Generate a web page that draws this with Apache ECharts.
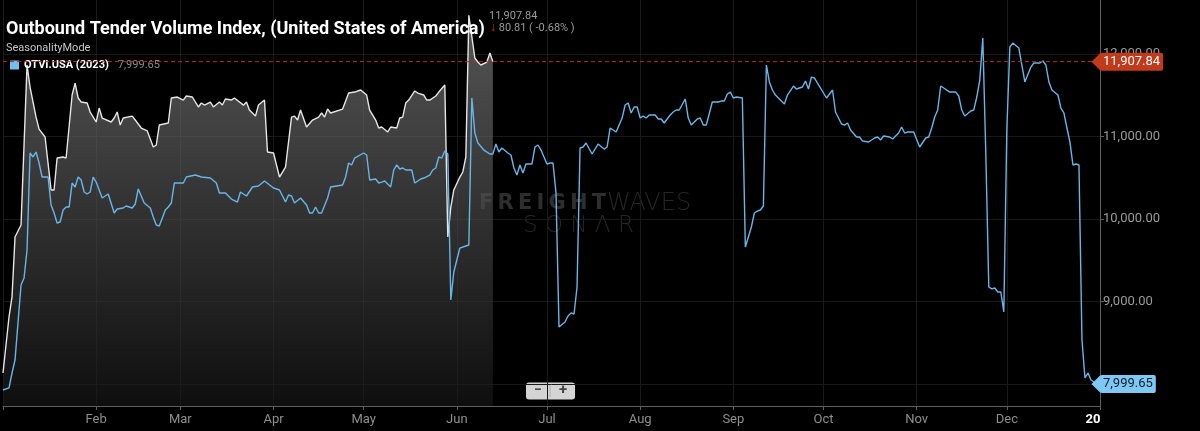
<!DOCTYPE html>
<html>
<head>
<meta charset="utf-8">
<script src="https://cdn.jsdelivr.net/npm/echarts@6/dist/echarts.min.js"></script>
<style>
  html, body { margin: 0; padding: 0; background: #000; }
  #chart { width: 1200px; height: 431px; }
</style>
</head>
<body>
<div id="chart"></div>
<script>
// day of year (0 = Jan 1) and OTVI values, 2023 line (blue)
const days2023 = [0, 2, 3, 4, 6, 7, 8, 9, 10, 11, 12, 13, 15, 16, 17, 18, 19, 20, 21, 22, 23, 24, 25, 26, 27, 28, 29, 30, 31, 33, 34, 35, 37, 38, 40, 41, 43, 44, 45, 47, 49, 50, 51, 52, 54, 55, 56, 57, 60, 61, 64, 66, 69, 71, 72, 74, 76, 78, 79, 81, 83, 85, 87, 90, 92, 94, 95, 96, 97, 99, 101, 102, 103, 104, 105, 106, 108, 109, 113, 114, 115, 116, 117, 120, 121, 122, 124, 125, 126, 127, 129, 130, 131, 132, 133, 134, 136, 137, 139, 140, 142, 143, 144, 145, 146, 147, 148, 149, 150, 151, 152, 154, 155, 156, 157, 158, 160, 162, 163, 164, 165, 166, 168, 169, 170, 171, 172, 173, 174, 176, 177, 178, 179, 181, 182, 183, 184, 185, 187, 188, 189, 190, 191, 192, 193, 194, 196, 198, 200, 201, 202, 203, 204, 206, 207, 208, 209, 210, 211, 212, 213, 214, 215, 217, 218, 219, 220, 222, 223, 224, 225, 227, 228, 229, 231, 232, 233, 234, 236, 238, 239, 240, 241, 242, 243, 244, 246, 247, 248, 249, 250, 251, 252, 253, 254, 255, 256, 257, 258, 260, 261, 263, 264, 266, 267, 268, 269, 270, 274, 276, 277, 279, 280, 281, 282, 284, 285, 286, 288, 290, 291, 292, 293, 295, 296, 298, 299, 300, 301, 303, 305, 307, 308, 309, 310, 311, 312, 313, 315, 317, 318, 319, 320, 322, 323, 324, 325, 326, 327, 328, 329, 330, 331, 332, 333, 334, 335, 336, 338, 340, 342, 343, 345, 346, 347, 348, 349, 351, 352, 353, 354, 355, 356, 357, 358, 359, 360, 361, 362, 363, 364];
const otvi2023 = [7927, 7952, 8133, 8291, 9200, 9285, 9624, 10800, 10752, 10812, 10679, 10509, 10509, 10170, 10073, 9952, 9964, 10109, 10145, 10145, 10436, 10388, 10509, 10473, 10327, 10303, 10327, 10509, 10448, 10255, 10279, 10303, 10073, 10121, 10133, 10158, 10133, 10182, 10364, 10194, 10133, 10024, 9927, 9915, 10109, 10145, 10194, 10436, 10436, 10509, 10533, 10509, 10497, 10436, 10315, 10315, 10242, 10206, 10327, 10279, 10388, 10400, 10461, 10376, 10352, 10206, 10291, 10279, 10194, 10255, 10170, 10073, 10073, 10145, 10073, 10073, 10255, 10388, 10412, 10509, 10679, 10655, 10739, 10800, 10776, 10473, 10485, 10436, 10448, 10461, 10388, 10594, 10655, 10606, 10618, 10594, 10594, 10436, 10485, 10497, 10533, 10594, 10618, 10752, 10739, 10824, 10788, 9018, 9358, 9503, 9648, 9673, 9685, 11467, 11042, 10921, 10836, 10788, 10788, 10909, 10812, 10861, 10800, 10776, 10618, 10533, 10655, 10558, 10667, 10667, 10873, 10897, 10836, 10667, 10679, 10679, 10315, 8691, 8752, 8824, 8861, 8848, 9176, 10861, 10873, 10921, 10788, 10909, 10848, 10873, 11103, 11079, 11055, 11224, 11382, 11406, 11285, 11358, 11358, 11224, 11248, 11224, 11261, 11261, 11212, 11212, 11164, 11261, 11297, 11321, 11321, 11455, 11224, 11139, 11212, 11224, 11139, 11139, 11418, 11418, 11430, 11430, 11515, 11539, 11467, 11479, 11467, 9661, 9782, 9903, 10073, 10097, 10109, 10158, 11867, 11661, 11564, 11503, 11467, 11394, 11503, 11612, 11576, 11600, 11673, 11576, 11721, 11709, 11467, 11564, 11297, 11152, 11139, 11164, 11079, 10994, 10994, 10945, 10933, 10982, 10994, 10958, 11006, 10994, 10970, 11042, 11115, 11042, 11055, 11055, 10873, 10982, 10994, 11103, 11236, 11321, 11612, 11588, 11539, 11539, 11491, 11321, 11248, 11309, 11321, 11479, 11685, 12194, 10800, 9176, 9152, 9164, 9115, 9115, 8873, 11079, 12085, 12133, 12073, 11661, 11842, 11891, 11891, 11915, 11867, 11661, 11564, 11503, 11345, 11285, 11103, 10933, 10655, 10667, 10655, 8533, 8073, 8133, 8048, 8024, 7999.65];

// current year line (grey area), same seasonal day axis
const daysCurrent = [0, 2, 3, 4, 6, 8, 9, 11, 12, 14, 16, 17, 18, 20, 21, 23, 24, 25, 26, 28, 29, 31, 32, 33, 36, 37, 38, 39, 40, 43, 44, 46, 48, 50, 51, 52, 55, 56, 58, 60, 61, 63, 65, 66, 67, 69, 70, 72, 73, 74, 76, 77, 80, 81, 82, 84, 85, 87, 88, 90, 92, 94, 96, 97, 98, 99, 101, 103, 105, 106, 107, 108, 109, 113, 115, 117, 119, 121, 122, 124, 125, 126, 128, 129, 131, 132, 133, 134, 135, 137, 138, 140, 141, 142, 144, 145, 147, 148, 149, 150, 152, 153, 154, 155, 157, 158, 159, 161, 162, 163];
const otviCurrent = [8133, 8812, 9055, 9782, 9927, 11867, 11600, 11236, 11090, 10994, 10352, 10352, 10739, 10752, 10739, 11503, 11648, 11467, 11418, 11406, 11297, 11176, 11345, 11224, 11176, 11224, 11297, 11139, 11224, 11248, 11200, 11103, 11067, 10873, 10897, 11139, 11164, 11467, 11479, 11442, 11491, 11479, 11358, 11406, 11382, 11418, 11358, 11418, 11382, 11455, 11442, 11467, 11380, 11418, 11321, 11248, 11382, 11442, 10812, 10800, 10509, 10630, 11236, 11248, 11200, 11321, 11115, 11200, 11236, 11285, 11236, 11333, 11285, 11333, 11527, 11539, 11564, 11503, 11321, 11200, 11103, 11115, 11055, 11115, 11103, 11224, 11236, 11406, 11442, 11552, 11527, 11503, 11442, 11442, 11491, 11539, 11624, 9782, 10145, 10352, 10509, 10570, 10752, 12470, 11952, 11903, 11867, 11903, 12012, 11907.84];

const monthNames = ['Jan', 'Feb', 'Mar', 'Apr', 'May', 'Jun', 'Jul', 'Aug', 'Sep', 'Oct', 'Nov', 'Dec'];
const lastValue = 11907.84;
const lastValue2023 = 7999.65;
const changeText = '80.81 ( -0.68% )';

const DAY = 86400000;
const START = Date.UTC(2023, 0, 1);
const X_MAX = Date.UTC(2024, 0, 1);
const toPairs = (d, v) => d.map((x, i) => [START + x * DAY, v[i]]);
const fmt = v => v.toLocaleString('en-US', { minimumFractionDigits: 2, maximumFractionDigits: 2 });

// price tag that sits on the right axis
const tagLabel = (text, bg, fg) => ({
  show: true,
  position: 'end',
  distance: 0,
  formatter: () => text,
  color: fg,
  fontSize: 13,
  backgroundColor: bg,
  padding: [3, 3, 2, 3],
  borderRadius: 2
});
const tagArrow = (value, color) => ({
  silent: true,
  symbol: 'path://M0,5 L6,0 L6,10 Z',
  symbolSize: [9, 18],
  symbolOffset: [-4, 0],
  itemStyle: { color: color },
  label: { show: false },
  data: [{ coord: [X_MAX, value] }]
});

let myChart = echarts.init(document.getElementById('chart'));
myChart.setOption({
  useUTC: true,
  backgroundColor: '#000',
  animation: false,
  textStyle: { fontFamily: 'Roboto' },
  title: [
    {
      text: 'Outbound Tender Volume Index, (United States of America)',
      left: 6, top: 20, padding: 0,
      textStyle: { color: '#fff', fontSize: 18, fontWeight: 'bold', fontFamily: 'Roboto' }
    },
    {
      text: fmt(lastValue),
      left: 489, top: 11, padding: 0,
      textStyle: { color: '#9a9a9a', fontSize: 11, fontWeight: 'normal' }
    },
    {
      text: '{a|↓} ' + changeText,
      left: 490, top: 22, padding: 0,
      textStyle: {
        color: '#9a9a9a', fontSize: 11, fontWeight: 'normal',
        rich: { a: { color: '#e0303a', fontSize: 12, fontWeight: 'bold' } }
      }
    },
    {
      text: 'SeasonalityMode',
      left: 6, top: 43, padding: 0,
      textStyle: { color: '#c8c8c8', fontSize: 11, fontWeight: 'normal' }
    }
  ],
  legend: {
    left: 10, top: 59, padding: 0,
    icon: 'rect',
    itemWidth: 9, itemHeight: 9, itemGap: 4,
    data: ['OTVI.USA (2023)'],
    formatter: name => '{n|' + name + '}   {v|' + fmt(lastValue2023) + '}',
    textStyle: {
      rich: {
        n: { color: '#fff', fontSize: 11, fontWeight: 'bold' },
        v: { color: '#8a8a8a', fontSize: 11 }
      }
    }
  },
  grid: { left: 0, right: 100, top: 0, bottom: 25 },
  xAxis: {
    type: 'time',
    min: START,
    max: X_MAX,
    splitNumber: 12,
    minInterval: 28 * DAY,
    axisLine: { lineStyle: { color: '#5e5e5e' } },
    axisTick: { show: true, length: 4, lineStyle: { color: '#5e5e5e' } },
    splitLine: { show: true, lineStyle: { color: '#191919' } },
    axisLabel: {
      color: '#8e8e8e',
      fontSize: 13,
      margin: 7,
      showMinLabel: false,
      showMaxLabel: true,
      formatter: function (value) {
        let d = new Date(value);
        if (d.getUTCMonth() === 0) {
          return d.getUTCFullYear() === 2024 ? '{y|20}' : '';
        }
        return monthNames[d.getUTCMonth()];
      },
      rich: { y: { color: '#fff', fontSize: 13, fontWeight: 'bold', padding: [0, 0, 0, -14] } }
    }
  },
  yAxis: {
    type: 'value',
    position: 'right',
    min: 7733,
    max: 12655,
    splitNumber: 5,
    axisLine: { show: true, lineStyle: { color: '#5e5e5e' } },
    axisTick: { show: true, length: 4, lineStyle: { color: '#5e5e5e' } },
    splitLine: { show: true, showMinLine: false, showMaxLine: false, lineStyle: { color: '#191919' } },
    axisLabel: {
      color: '#9a9a9a',
      fontSize: 13,
      margin: 3,
      showMinLabel: false,
      showMaxLabel: false,
      formatter: v => fmt(v)
    }
  },
  graphic: [
    {
      type: 'text', left: 479, top: 193, z: 0,
      style: { text: 'F\u2009R\u2009E\u2009I\u2009G\u2009H\u2009T', fill: '#2e2e2e', fontSize: 21, fontWeight: 'bold', fontFamily: 'DejaVu Sans' }
    },
    {
      type: 'text', left: 607, top: 192, z: 0,
      style: { text: 'WAVES', fill: '#262626', fontSize: 24, fontWeight: 200, fontFamily: 'DejaVu Sans' }
    },
    {
      type: 'text', left: 523, top: 215, z: 0,
      style: { text: 'S O N Λ R', fill: '#262626', fontSize: 23, fontWeight: 200, fontFamily: 'DejaVu Sans' }
    },
    {
      type: 'group', left: 526, top: 382, z: 10,
      children: [
        { type: 'rect', shape: { x: 0, y: 0, width: 49, height: 17, r: 3 }, style: { fill: '#d4d4d4' } },
        { type: 'line', shape: { x1: 24, y1: 2, x2: 24, y2: 15 }, style: { stroke: '#b0b0b0' } },
        { type: 'text', x: 12, y: 8, style: { text: '−', fill: '#444', font: 'bold 14px Roboto', align: 'center', verticalAlign: 'middle' } },
        { type: 'text', x: 37, y: 8, style: { text: '+', fill: '#444', font: 'bold 15px Roboto', align: 'center', verticalAlign: 'middle' } }
      ]
    }
  ],
  series: [
    {
      name: 'OTVI.USA (current)',
      type: 'line',
      data: toPairs(daysCurrent, otviCurrent),
      showSymbol: false,
      z: 2,
      lineStyle: { color: '#e6e6e6', width: 1.4 },
      areaStyle: {
        origin: 'start',
        color: new echarts.graphic.LinearGradient(0, 0, 0, 1, [
          { offset: 0, color: 'rgba(128,128,128,0.95)' },
          { offset: 1, color: 'rgba(22,22,22,0.95)' }
        ])
      },
      markPoint: tagArrow(lastValue, '#c23a1c')
    },
    {
      name: 'OTVI.USA (2023)',
      type: 'line',
      data: toPairs(days2023, otvi2023),
      showSymbol: false,
      z: 3,
      color: '#74c0f0',
      lineStyle: { color: '#68b6e8', width: 1.4 },
      markLine: {
        silent: true,
        symbol: 'none',
        z: 20,
        lineStyle: { color: 'rgba(0,0,0,0)', width: 0 },
        data: [
          { yAxis: lastValue, label: tagLabel(fmt(lastValue), '#c23a1c', '#fff') },
          { yAxis: lastValue2023, label: tagLabel(fmt(lastValue2023), '#80c8f4', '#0b1e2c') }
        ]
      },
      markPoint: tagArrow(lastValue2023, '#80c8f4')
    },
    {
      // last-value reference line across the whole year
      name: 'last',
      type: 'line',
      data: [[START, lastValue], [X_MAX, lastValue]],
      showSymbol: false,
      silent: true,
      z: 4,
      lineStyle: { color: '#c02a18', type: [4, 3], width: 1 }
    }
  ]
});
</script>
</body>
</html>
